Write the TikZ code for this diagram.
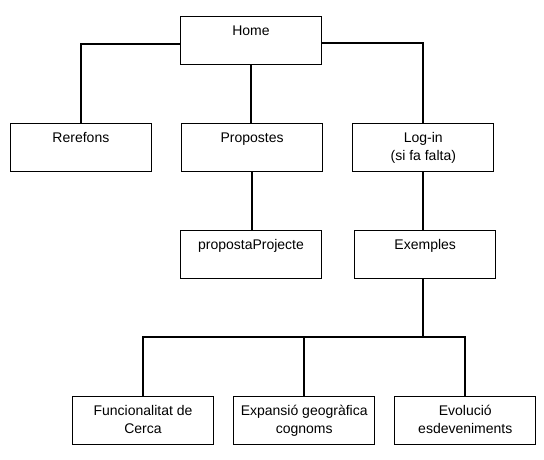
\documentclass[tikz,border=0pt]{standalone}
\usepackage{fontspec}
\setmainfont{Liberation Sans}
\usepackage{xcolor}

\begin{document}
\begin{tikzpicture}[x=1pt,y=-1pt,
		pagebox/.style={draw,line width=1pt,fill=white,minimum width=141pt,inner sep=0pt,
			font=\fontsize{14}{18.3}\selectfont,align=center,text height=19pt,text depth=29pt},
		pagebox2/.style={pagebox,text height=37.3pt,text depth=10.7pt},
		link/.style={line width=2.2pt}]
			\useasboundingbox[fill=white] (0,0) rectangle (544,459);
			% pagines
			\node[pagebox] (home) at (251,40.2) {Home};
			\node[pagebox] (rerefons) at (80.9,147.3) {Rerefons};
			\node[pagebox] (propostes) at (252.1,147.3) {Propostes};
			\node[pagebox2] (login) at (423.3,147.3) {Log-in\\(si fa falta)};
			\node[pagebox] (proposta) at (251,254.5) {propostaProjecte};
			\node[pagebox] (exemples) at (425.2,254.5) {Exemples};
			\node[pagebox2] (cerca) at (143,420.3) {Funcionalitat de\\Cerca};
			\node[pagebox2] (expansio) at (304.2,420.3) {Expansió geogràfica\\cognoms};
			\node[pagebox2] (evolucio) at (465.3,420.3) {Evolució\\esdeveniments};
			% enllacos
			\coordinate (bus) at (0,336.7);
			\draw[link] ([yshift=-3.5pt]home.west) -| (rerefons.north);
			\draw[link] ([yshift=-2.5pt]home.east) -| (login.north);
			\draw[link] (home.south) -- (home.south |- propostes.north);
			\draw[link] (propostes.south) -- (propostes.south |- proposta.north);
			\draw[link] (login.south) -- (login.south |- exemples.north);
			\draw[link] (login.south |- exemples.south) -- (login.south |- bus);
			\draw[link] (cerca.north) |- (bus -| evolucio.north) -- (evolucio.north);
			\draw[link] (expansio.north) -- (expansio.north |- bus);
		\end{tikzpicture}
\end{document}
